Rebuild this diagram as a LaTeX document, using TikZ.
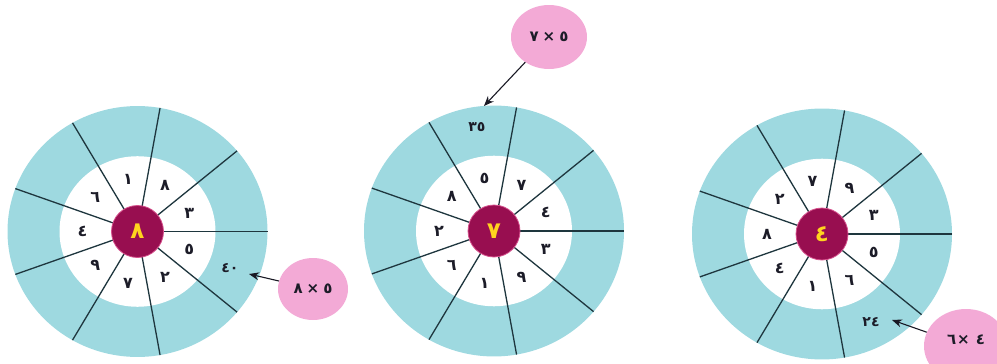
\documentclass[tikz,border=0pt]{standalone}
\usepackage{fontspec}
\TeXXeTstate=1
\newfontfamily\arabicfont[Script=Arabic]{DejaVu Sans}
\usetikzlibrary{shapes.geometric,arrows.meta}
\definecolor{ringc}{RGB}{158,217,224}
\definecolor{discc}{RGB}{152,14,80}
\definecolor{rimc}{RGB}{214,80,140}
\definecolor{goldc}{RGB}{255,212,30}
\definecolor{pinkc}{RGB}{243,170,214}
\definecolor{spokec}{RGB}{30,54,62}
\definecolor{inkc}{RGB}{28,28,40}
\tikzset{
  spoke/.style={draw=spokec,line width=1.3pt},
  disc/.style={circle,fill=discc,draw=rimc,line width=0.8pt,minimum size=52pt,inner sep=0pt,
    text=goldc,font=\arabicfont\bfseries\fontsize{23}{23}\selectfont},
  num/.style={text=inkc,inner sep=0pt,font=\arabicfont\bfseries\fontsize{16}{16}\selectfont},
  ans/.style={text=inkc,inner sep=1pt,font=\arabicfont\bfseries\fontsize{14}{14}\selectfont},
  bubble/.style={ellipse,fill=pinkc,inner sep=0pt,text=inkc,font=\arabicfont\bfseries\fontsize{15}{15}\selectfont},
  pointer/.style={draw=inkc!90!black,line width=1.1pt,-{Stealth[length=10pt,width=8pt]}}
}
\newcommand\mywheel[4]{%
  \begin{scope}[shift={#2},yscale=0.965]
    \fill[ringc] (0,0) circle (130);
    \fill[white] (0,0) circle (78);
    \foreach \a in {0,40,...,320} \draw[spoke] (\a:26) -- (\a:130);
    \node[disc] (#1c) at (0,0) {#3};
    \foreach \d [count=\i] in {#4}
      \node[num] (#1n\i) at ({-(20+40*(\i-1))}:55) {\d};
  \end{scope}}
\begin{document}
\begin{tikzpicture}[x=1pt,y=-1pt]
\useasboundingbox (0,0) rectangle (997,364);
% wheel 1
\mywheel{wa}{(137.5,231.5)}{٨}{٣,٨,١,٦,٤,٩,٧,٢,٥}
\node[ans] (wa40) at (230,268) {\mbox{٤}\mbox{٠}};
% wheel 2
\mywheel{wb}{(494,231)}{٧}{٤,٧,٥,٨,٢,٦,١,٩,٣}
\node[ans] (wb35) at (477,127) {\mbox{٣}\mbox{٥}};
% wheel 3
\mywheel{wc}{(822,234)}{٤}{٣,٩,٧,٢,٨,٤,١,٦,٥}
\node[ans] (wc24) at (871,322) {\mbox{٢}\mbox{٤}};
% bubbles (glyphs in visual order, left to right)
\node[bubble,minimum width=70pt,minimum height=62pt] (ba) at (313,289)
  {\beginR\beginL\mbox{٨}\hspace{4pt}\mbox{×}\hspace{4pt}\mbox{٥}\endL\endR};
\node[bubble,minimum width=76pt,minimum height=64pt] (bb) at (549,37)
  {\beginR\beginL\mbox{٧}\hspace{4pt}\mbox{×}\hspace{4pt}\mbox{٥}\endL\endR};
\node[bubble,minimum width=84pt,minimum height=74pt] (bc) at (966,346) {};
\node[text=inkc,font=\arabicfont\bfseries\fontsize{15}{15}\selectfont] (bct) at (966,340)
  {\beginR\beginL\mbox{٦}\kern1pt\mbox{×}\hspace{6pt}\mbox{٤}\endL\endR};
% arrows
\coordinate (ta) at (249,274);
\coordinate (tb) at (484,106);
\coordinate (tc) at (892,320);
\draw[pointer] (ba) -- (ta);
\draw[pointer] (bb) -- (tb);
\draw[pointer] (bc) -- (tc);
\end{tikzpicture}
\end{document}
